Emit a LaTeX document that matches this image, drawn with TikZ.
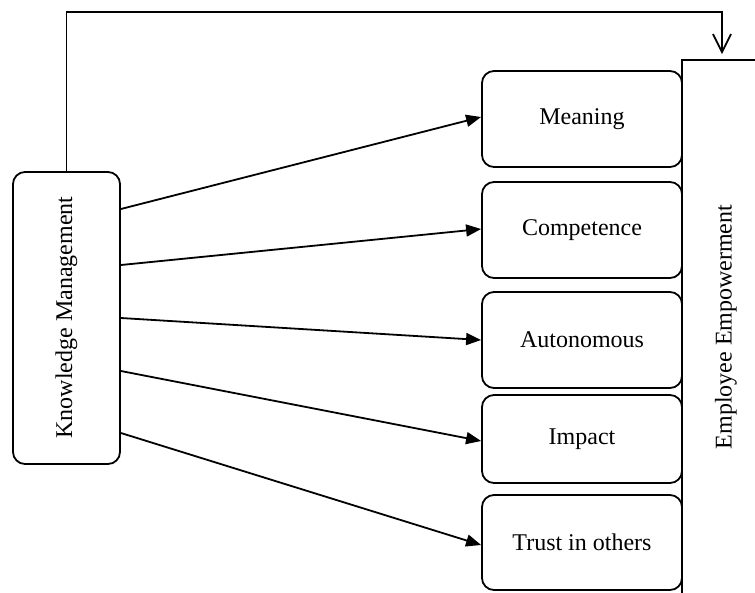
\documentclass[tikz,border=0pt]{standalone}
\usepackage{fontspec}
\setmainfont{Liberation Serif}
\usetikzlibrary{arrows.meta}
\begin{document}
\begin{tikzpicture}[x=1pt,y=-1pt,
  ln/.style={line width=1.8pt},
  txt/.style={font=\fontsize{24}{28}\selectfont},
  dimbox/.style={draw,ln,txt,rounded corners=12pt,minimum width=200pt,align=center},
  kmbox/.style={draw,ln,rounded corners=12pt,minimum width=107pt,minimum height=292pt},
  empbox/.style={draw,ln,minimum width=90pt,minimum height=564pt},
  arr/.style={ln,-{Triangle[length=15pt,width=12pt]}},
  toparr/.style={ln,-{Straight Barb[length=18pt,width=18pt]}}]
\useasboundingbox (0,0) rectangle (755,592);
\clip (0,0) rectangle (755,592);
\fill[white] (0,0) rectangle (755,592);
\node[empbox] (emp) at (727,342) {};
\node[rotate=90,txt] (emptext) at (726,327) {Employee Empowerment};
\node[kmbox] (km) at (66.5,318) {};
\node[rotate=90,txt] (kmtext) at (66.5,317.5) {Knowledge Management};
\node[dimbox,minimum height=96pt] (meaning) at (582,119) {Meaning};
\node[dimbox,minimum height=96pt] (competence) at (582,230) {Competence};
\node[dimbox,minimum height=96pt] (autonomous) at (582,340) {Autonomous};
\node[dimbox,minimum height=88pt] (impact) at (582,439) {Impact};
\node[dimbox,minimum height=95pt] (trust) at (582,542.5) {Trust in others};
\coordinate (c1) at (km.north |- 0,12);
\coordinate (c2) at (722,12);
\draw[toparr] (km.north) -- (c1) -- (c2) -- ([yshift=5pt]c2 |- emp.north);
\draw[arr] ([yshift=109pt]km.east) -- ([yshift=2pt]meaning.west);
\draw[arr] ([yshift=53pt]km.east) -- ([yshift=1pt]competence.west);
\draw[arr] (km.east) -- (autonomous.west);
\draw[arr] ([yshift=-53pt]km.east) -- ([yshift=-2pt]impact.west);
\draw[arr] ([yshift=-115pt]km.east) -- ([yshift=-2.5pt]trust.west);
\end{tikzpicture}
\end{document}
